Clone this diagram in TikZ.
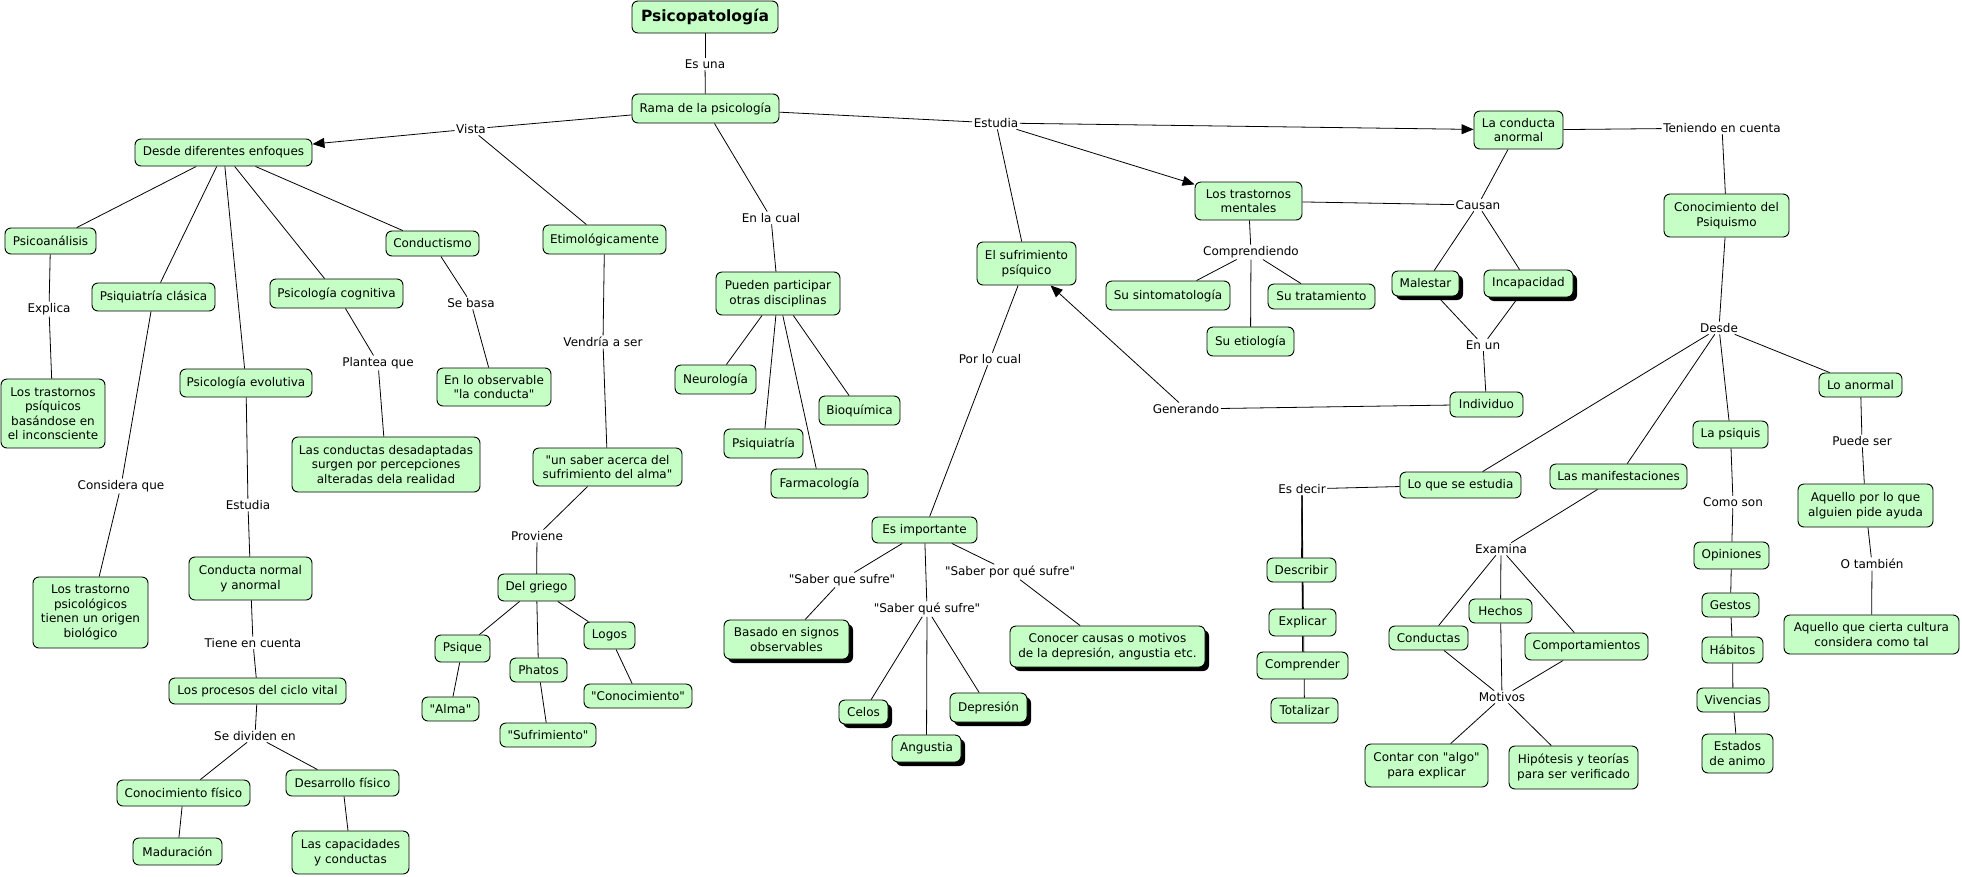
\documentclass[tikz,border=0pt]{standalone}
\usepackage{fontspec}
\setmainfont{DejaVu Sans}[Ligatures=TeXOff]
\usetikzlibrary{arrows.meta,shadows}
\definecolor{cg}{RGB}{197,255,197}
\pgfdeclarelayer{bg}
\pgfsetlayers{bg,main}
\newcommand\dq{{\char34\relax}}
\newcommand\bx[7][]{\node[cn,#1,minimum width={#5pt-#3pt},minimum height={#6pt-#4pt}] (#2) at ({(#3+#5)/2},{(#4+#6)/2}) {#7};}
\tikzset{
  cn/.style={draw,fill=cg,rounded corners=6pt,align=center,inner sep=0pt,line width=0.9pt,font=\fontsize{12}{14.5}\selectfont},
  shd/.style={drop shadow={shadow xshift=4pt,shadow yshift=-4pt,fill=black,opacity=1}},
  lb/.style={inner sep=1.5pt,font=\fontsize{12}{14.5}\selectfont},
  ln/.style={line width=0.8pt},
  arr/.style={line width=0.8pt,-{Triangle[length=12pt,width=10pt]}}
}
\begin{document}
\begin{tikzpicture}[x=1pt,y=-1pt]
\useasboundingbox (0,0) rectangle (1962,876);
% concept nodes
\bx[font=\bfseries\fontsize{15.5}{18}\selectfont]{tit}{632}{1}{778}{33}{Psicopatología}
\bx{rama}{632}{94}{779}{123}{Rama de la psicología}
\bx{desde}{135}{139}{312}{166}{Desde diferentes enfoques}
\bx{etim}{543}{225}{666}{254}{Etimológicamente}
\bx{pueden}{716}{272}{840}{315}{Pueden participar\\otras disciplinas}
\bx{lca}{1474}{111}{1563}{149}{La conducta\\anormal}
\bx{cdp}{1664}{194}{1789}{237}{Conocimiento del\\Psiquismo}
\bx{ltm}{1195}{182}{1302}{220}{Los trastornos\\mentales}
\bx{esp}{977}{242}{1076}{285}{El sufrimiento\\psíquico}
\bx{sint}{1106}{281}{1230}{310}{Su sintomatología}
\bx{trat}{1268}{284}{1375}{309}{Su tratamiento}
\bx{etio}{1207}{327}{1294}{356}{Su etiología}
\bx[shd]{mal}{1392}{271}{1459}{296}{Malestar}
\bx[shd]{inc}{1484}{270}{1573}{297}{Incapacidad}
\bx{indiv}{1450}{392}{1523}{417}{Individuo}
\bx{esimp}{872}{517}{977}{543}{Es importante}
\bx{lanor}{1819}{373}{1902}{397}{Lo anormal}
\bx{psiq}{1693}{421}{1768}{448}{La psiquis}
\bx{manif}{1550}{464}{1687}{489}{Las manifestaciones}
\bx{lqse}{1400}{472}{1521}{498}{Lo que se estudia}
\bx{descr}{1267}{558}{1336}{582}{Describir}
\bx{expl}{1269}{609}{1336}{636}{Explicar}
\bx{compr}{1257}{652}{1348}{679}{Comprender}
\bx{total}{1271}{698}{1338}{723}{Totalizar}
\bx{cond}{1389}{626}{1468}{650}{Conductas}
\bx{hech}{1469}{599}{1532}{623}{Hechos}
\bx{comp}{1525}{633}{1648}{660}{Comportamientos}
\bx{contar}{1365}{744}{1488}{787}{Contar con \dq algo\dq\\para explicar}
\bx{hipo}{1509}{746}{1638}{789}{Hipótesis y teorías\\para ser verificado}
\bx{opin}{1694}{542}{1769}{569}{Opiniones}
\bx{gest}{1702}{593}{1759}{617}{Gestos}
\bx{habi}{1702}{637}{1763}{663}{Hábitos}
\bx{vive}{1697}{688}{1769}{712}{Vivencias}
\bx{estad}{1702}{734}{1773}{773}{Estados\\de animo}
\bx{aqay}{1798}{484}{1933}{527}{Aquello por lo que\\alguien pide ayuda}
\bx{aqcu}{1784}{615}{1959}{654}{Aquello que cierta cultura\\considera como tal}
\bx{psan}{5}{228}{96}{254}{Psicoanálisis}
\bx{ltp}{1}{379}{105}{448}{Los trastornos\\psíquicos\\basándose en\\el inconsciente}
\bx{psqc}{92}{283}{215}{311}{Psiquiatría clásica}
\bx{ltpb}{33}{577}{148}{648}{Los trastorno\\psicológicos\\tienen un origen\\biológico}
\bx{pcog}{270}{279}{403}{308}{Psicología cognitiva}
\bx{lcd}{292}{437}{480}{492}{Las conductas desadaptadas\\surgen por percepciones\\alteradas dela realidad}
\bx{cndt}{386}{231}{479}{256}{Conductismo}
\bx{elo}{437}{368}{551}{406}{En lo observable\\\dq la conducta\dq}
\bx{pev}{180}{369}{312}{397}{Psicología evolutiva}
\bx{cnya}{189}{557}{312}{600}{Conducta normal\\y anormal}
\bx{lpcv}{169}{678}{346}{704}{Los procesos del ciclo vital}
\bx{cfis}{117}{780}{250}{806}{Conocimiento físico}
\bx{dfis}{286}{770}{399}{796}{Desarrollo físico}
\bx{madu}{133}{838}{222}{865}{Maduración}
\bx{lcyc}{292}{831}{409}{874}{Las capacidades\\y conductas}
\bx{usab}{533}{448}{682}{486}{\dq un saber acerca del\\sufrimiento del alma\dq}
\bx{dgr}{498}{574}{575}{601}{Del griego}
\bx{psique}{435}{635}{490}{662}{Psique}
\bx{alma}{422}{697}{479}{721}{\dq Alma\dq}
\bx{phat}{510}{658}{567}{682}{Phatos}
\bx{sufr}{500}{723}{596}{747}{\dq Sufrimiento\dq}
\bx{logo}{584}{622}{635}{649}{Logos}
\bx{conoc}{584}{684}{692}{708}{\dq Conocimiento\dq}
\bx{neur}{675}{365}{756}{394}{Neurología}
\bx{bioq}{819}{396}{900}{425}{Bioquímica}
\bx{psqt}{724}{429}{803}{458}{Psiquiatría}
\bx{farm}{771}{469}{868}{498}{Farmacología}
\bx[shd]{basa}{724}{620}{849}{659}{Basado en signos\\observables}
\bx[shd]{celo}{839}{700}{888}{724}{Celos}
\bx[shd]{angu}{892}{735}{961}{762}{Angustia}
\bx[shd]{depr}{950}{693}{1027}{722}{Depresión}
\bx[shd]{cono}{1010}{626}{1205}{667}{Conocer causas o motivos\\de la depresión, angustia etc.}
% linking phrases
\node[lb] (esuna) at (705,64) {Es una};
\node[lb] (vista) at (471,129) {Vista};
\node[lb] (enlacual) at (771,218) {En la cual};
\node[lb] (estudia) at (996,123) {Estudia};
\node[lb] (teniendo) at (1722,128) {Teniendo en cuenta};
\node[lb] (causan) at (1478,205) {Causan};
\node[lb] (comprend) at (1251,252) {Comprendiendo};
\node[lb] (enun) at (1483,345) {En un};
\node[lb] (generando) at (1186,409) {Generando};
\node[lb] (porlocual) at (990,359) {Por lo cual};
\node[lb] (desdeL) at (1719,328) {Desde};
\node[lb] (esdecir) at (1302,489) {Es decir};
\node[lb] (examina) at (1501,549) {Examina};
\node[lb] (motivos) at (1502,697) {Motivos};
\node[lb] (comoson) at (1733,502) {Como son};
\node[lb] (puedeser) at (1862,441) {Puede ser};
\node[lb] (otambien) at (1872,564) {O también};
\node[lb] (explica) at (49,309) {Explica};
\node[lb] (considera) at (121,486) {Considera que};
\node[lb] (plantea) at (378,363) {Plantea que};
\node[lb] (sebasa) at (471,303) {Se basa};
\node[lb] (estudia2) at (248,505) {Estudia};
\node[lb] (tiene) at (253,643) {Tiene en cuenta};
\node[lb] (sediv) at (255,736) {Se dividen en};
\node[lb] (vendria) at (603,342) {Vendría a ser};
\node[lb] (proviene) at (537,536) {Proviene};
\node[lb] (sqs1) at (842,580) {\dq Saber que sufre\dq};
\node[lb] (sqs2) at (927,609) {\dq Saber qué sufre\dq};
\node[lb] (sps) at (1010,572) {\dq Saber por qué sufre\dq};
% connectors
\begin{pgfonlayer}{bg}
\draw[ln] (tit) -- (esuna); \draw[ln] (esuna) -- (rama);
\draw[ln] (rama) -- (vista); \draw[arr] (vista) -- (desde); \draw[ln] (vista) -- (etim);
\draw[ln] (rama) -- (enlacual); \draw[ln] (enlacual) -- (pueden);
\draw[ln] (rama) -- (estudia); \draw[arr] (estudia) -- (lca); \draw[arr] (estudia) -- (ltm); \draw[ln] (estudia) -- (esp);
\draw[ln] (lca) -- (teniendo); \draw[ln] (teniendo) -- (cdp);
\draw[ln] (ltm) -- (causan); \draw[ln] (lca) -- (causan); \draw[ln] (causan) -- (mal); \draw[ln] (causan) -- (inc);
\draw[ln] (mal) -- (enun); \draw[ln] (inc) -- (enun); \draw[ln] (enun) -- (indiv);
\draw[ln] (indiv) -- (generando); \draw[arr] (generando) -- (esp);
\draw[ln] (ltm) -- (comprend); \draw[ln] (comprend) -- (sint); \draw[ln] (comprend) -- (trat); \draw[ln] (comprend) -- (etio);
\draw[ln] (esp) -- (porlocual); \draw[ln] (porlocual) -- (esimp);
\draw[ln] (esimp) -- (sqs1); \draw[ln] (sqs1) -- (basa);
\draw[ln] (esimp) -- (sqs2); \draw[ln] (sqs2) -- (celo); \draw[ln] (sqs2) -- (angu); \draw[ln] (sqs2) -- (depr);
\draw[ln] (esimp) -- (sps); \draw[ln] (sps) -- (cono);
\draw[ln] (cdp) -- (desdeL); \draw[ln] (desdeL) -- (lqse); \draw[ln] (desdeL) -- (manif); \draw[ln] (desdeL) -- (psiq); \draw[ln] (desdeL) -- (lanor);
\draw[ln] (lqse) -- (esdecir); \draw[ln] (esdecir) -- (descr); \draw[ln] (esdecir) -- (expl); \draw[ln] (esdecir) -- (compr); \draw[ln] (esdecir) -- (total);
\draw[ln] (manif) -- (examina); \draw[ln] (examina) -- (cond); \draw[ln] (examina) -- (hech); \draw[ln] (examina) -- (comp);
\draw[ln] (cond) -- (motivos); \draw[ln] (hech) -- (motivos); \draw[ln] (comp) -- (motivos); \draw[ln] (motivos) -- (contar); \draw[ln] (motivos) -- (hipo);
\draw[ln] (psiq) -- (comoson); \draw[ln] (comoson) -- (opin); \draw[ln] (opin) -- (gest); \draw[ln] (gest) -- (habi); \draw[ln] (habi) -- (vive); \draw[ln] (vive) -- (estad);
\draw[ln] (lanor) -- (puedeser); \draw[ln] (puedeser) -- (aqay); \draw[ln] (aqay) -- (otambien); \draw[ln] (otambien) -- (aqcu);
\draw[ln] (desde) -- (psan); \draw[ln] (desde) -- (psqc); \draw[ln] (desde) -- (pev); \draw[ln] (desde) -- (pcog); \draw[ln] (desde) -- (cndt);
\draw[ln] (psan) -- (explica); \draw[ln] (explica) -- (ltp);
\draw[ln] (psqc) -- (considera); \draw[ln] (considera) -- (ltpb);
\draw[ln] (pcog) -- (plantea); \draw[ln] (plantea) -- (lcd);
\draw[ln] (cndt) -- (sebasa); \draw[ln] (sebasa) -- (elo);
\draw[ln] (pev) -- (estudia2); \draw[ln] (estudia2) -- (cnya); \draw[ln] (cnya) -- (tiene); \draw[ln] (tiene) -- (lpcv);
\draw[ln] (lpcv) -- (sediv); \draw[ln] (sediv) -- (cfis); \draw[ln] (sediv) -- (dfis); \draw[ln] (cfis) -- (madu); \draw[ln] (dfis) -- (lcyc);
\draw[ln] (etim) -- (vendria); \draw[ln] (vendria) -- (usab); \draw[ln] (usab) -- (proviene); \draw[ln] (proviene) -- (dgr);
\draw[ln] (dgr) -- (psique); \draw[ln] (dgr) -- (phat); \draw[ln] (dgr) -- (logo);
\draw[ln] (psique) -- (alma); \draw[ln] (phat) -- (sufr); \draw[ln] (logo) -- (conoc);
\draw[ln] (pueden) -- (neur); \draw[ln] (pueden) -- (psqt); \draw[ln] (pueden) -- (farm); \draw[ln] (pueden) -- (bioq);
\end{pgfonlayer}
\end{tikzpicture}
\end{document}
